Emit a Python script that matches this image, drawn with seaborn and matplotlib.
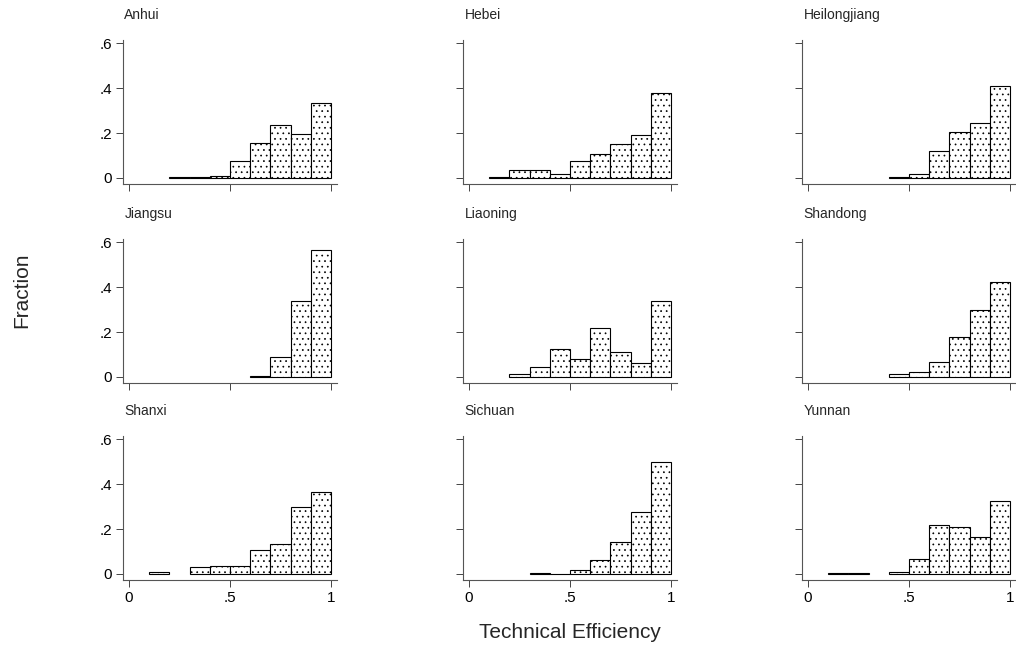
import numpy as np
import pandas as pd
import seaborn as sns
import matplotlib.pyplot as plt

# bin edges of the technical-efficiency histograms (width .1)
edges = [0.0, 0.1, 0.2, 0.3, 0.4, 0.5, 0.6, 0.7, 0.8, 0.9, 1.0]
mids = [0.05, 0.15, 0.25, 0.35, 0.45, 0.55, 0.65, 0.75, 0.85, 0.95]

provinces = ["Anhui", "Hebei", "Heilongjiang",
             "Jiangsu", "Liaoning", "Shandong",
             "Shanxi", "Sichuan", "Yunnan"]

# fraction of farms in each bin
anhui = [0, 0, 0.003, 0.003, 0.010, 0.077, 0.156, 0.236, 0.194, 0.333]
hebei = [0, 0.002, 0.034, 0.034, 0.018, 0.076, 0.107, 0.151, 0.193, 0.378]
heilongjiang = [0, 0, 0, 0, 0.003, 0.016, 0.121, 0.204, 0.245, 0.412]
jiangsu = [0, 0, 0, 0, 0, 0, 0.005, 0.089, 0.338, 0.565]
liaoning = [0, 0, 0.014, 0.045, 0.124, 0.079, 0.218, 0.109, 0.061, 0.338]
shandong = [0, 0, 0, 0, 0.012, 0.020, 0.065, 0.179, 0.298, 0.424]
shanxi = [0, 0.007, 0, 0.030, 0.036, 0.036, 0.107, 0.134, 0.297, 0.364]
sichuan = [0, 0, 0, 0.006, 0.001, 0.018, 0.064, 0.143, 0.278, 0.497]
yunnan = [0, 0.003, 0.003, 0, 0.009, 0.067, 0.216, 0.210, 0.163, 0.324]

fractions = [anhui, hebei, heilongjiang, jiangsu, liaoning, shandong,
             shanxi, sichuan, yunnan]

yticks = [0, 0.2, 0.4, 0.6]
ytick_labels = ["0", ".2", ".4", ".6"]
xticks = [0, 0.5, 1]
xtick_labels = ["0", ".5", "1"]

sns.set_theme(style="ticks")
plt.rcParams["font.family"] = ["Liberation Sans", "DejaVu Sans"]
plt.rcParams["hatch.linewidth"] = 0.5

W, H = 1016, 656
fig = plt.figure(figsize=(W / 100, H / 100), dpi=100)

col_left = [123, 463, 802]
row_top = [40, 239, 436]
ax_w, ax_h = 214, 144

for i, (name, frac) in enumerate(zip(provinces, fractions)):
    r, c = divmod(i, 3)
    ax = fig.add_axes([col_left[c] / W, 1 - (row_top[r] + ax_h) / H, ax_w / W, ax_h / H])

    df = pd.DataFrame({"te": mids, "frac": frac})
    df = df[df["frac"] > 0]
    sns.histplot(data=df, x="te", weights="frac", bins=edges, stat="count",
                 color="white", edgecolor="black", linewidth=0.8,
                 hatch="...", alpha=1, ax=ax)
    # empty bins are not drawn in the original
    for p in list(ax.patches):
        if p.get_height() <= 0:
            p.remove()

    ax.set_xlim(-0.03, 1.03)
    ax.set_ylim(-0.027, 0.615)
    ax.set_xticks(xticks)
    ax.set_yticks(yticks)
    ax.set_xticklabels(xtick_labels if r == 2 else [])
    ax.set_yticklabels(ytick_labels if c == 0 else [])
    ax.set_xlabel("")
    ax.set_ylabel("")
    ax.tick_params(axis="both", length=5, width=0.7, color="#444444",
                   labelsize=11, pad=3, labelcolor="black")
    for s in ("top", "right"):
        ax.spines[s].set_visible(False)
    for s in ("left", "bottom"):
        ax.spines[s].set_color("#555555")
        ax.spines[s].set_linewidth(0.8)

    ax.annotate(name, xy=(0, 1), xycoords="axes fraction", xytext=(1, 13),
                textcoords="offset points", ha="left", va="bottom", fontsize=10)

fig.text(22 / W, 1 - 290 / H, "Fraction", rotation=90, ha="center", va="center", fontsize=15)
fig.text(570 / W, 1 - 633 / H, "Technical Efficiency", ha="center", va="center", fontsize=15)

fig.savefig("out.png", dpi=100, facecolor="white")
